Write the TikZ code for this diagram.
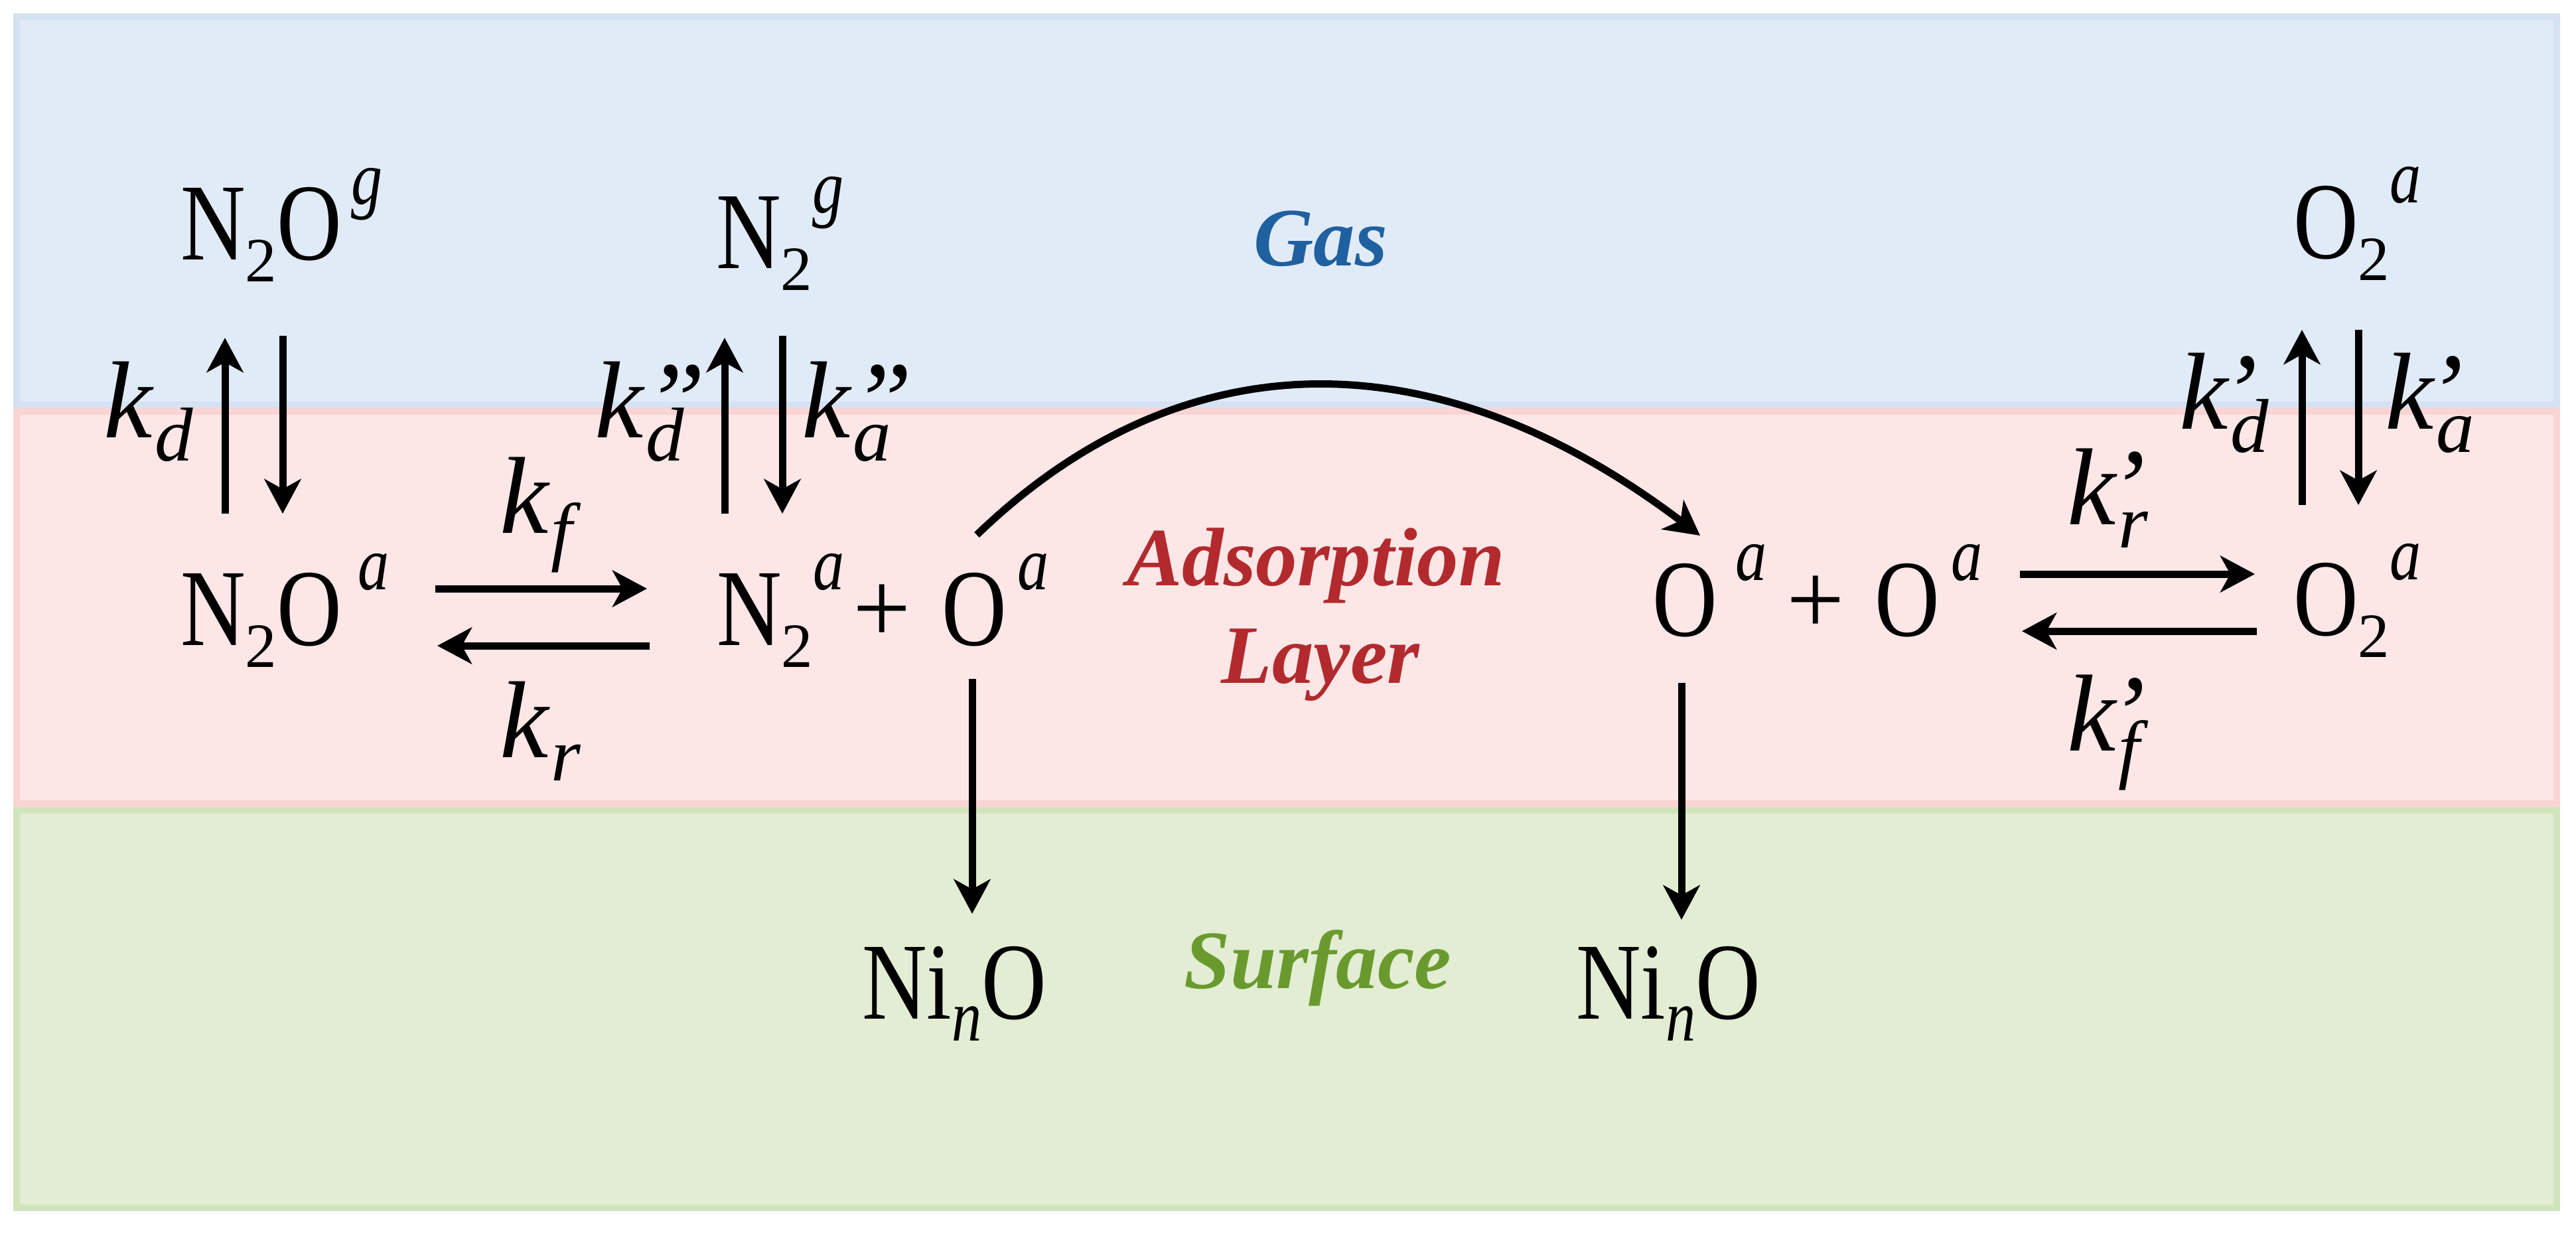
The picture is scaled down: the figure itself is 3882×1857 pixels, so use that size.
\documentclass[tikz,border=0pt]{standalone}
\usepackage{fontspec}
\setmainfont{Liberation Serif}
\newfontfamily\chemf[FakeStretch=0.82]{Liberation Serif}
\usetikzlibrary{arrows.meta,calc}

\definecolor{gasfill}{RGB}{225,235,247}
\definecolor{gasline}{RGB}{212,226,242}
\definecolor{adsfill}{RGB}{252,230,230}
\definecolor{adsline}{RGB}{249,212,212}
\definecolor{surffill}{RGB}{226,237,211}
\definecolor{surfline}{RGB}{210,228,189}
\definecolor{gastext}{RGB}{31,96,160}
\definecolor{adstext}{RGB}{178,42,46}
\definecolor{surftext}{RGB}{106,154,46}

\newcommand{\csub}[1]{\raisebox{-3.3pt}{\fontsize{9.5}{10}\selectfont\rmfamily\upshape #1}}
\newcommand{\csup}[1]{\raisebox{8.4pt}{\fontsize{11.5}{12}\selectfont\itshape #1}}
\newcommand{\nsub}[1]{\raisebox{-3.3pt}{\fontsize{11}{12}\selectfont\itshape #1}}
\newcommand{\klab}[2]{k\rlap{#1}\kern0.4pt\raisebox{-3.5pt}{\fontsize{11.5}{12}\selectfont #2}}

\tikzset{
  chem/.style={inner sep=0pt, anchor=base west, font=\chemf\fontsize{16.5}{18}\selectfont},
  plussign/.style={inner sep=0pt, font=\rmfamily\fontsize{15.5}{17}\selectfont},
  rate/.style={inner sep=0pt, anchor=base west, font=\fontsize{16.5}{18}\selectfont\itshape},
  layerlab/.style={inner sep=0pt, anchor=base, font=\fontsize{12.5}{14}\selectfont\bfseries\itshape},
  rx/.style={-{Stealth[length=5.2pt,width=5.5pt,inset=1.5pt]}, line width=1.1pt, draw=black},
  band/.style={line width=1pt},
}

\begin{document}
\begin{tikzpicture}[x=0.1pt,y=-0.1pt]
\useasboundingbox (0,0) rectangle (3882,1857);

% background layers
\draw[band, fill=gasfill, draw=gasline] (25,25) rectangle (3853,610);
\draw[band, fill=adsfill, draw=adsline] (25,620) rectangle (3853,1211);
\draw[band, fill=surffill, draw=surfline] (25,1221) rectangle (3853,1820);

% layer labels
\node[layerlab, text=gastext] (gas) at (1990,400) {Gas};
\node[layerlab, text=adstext] (adsA) at (1983,882) {Adsorption};
\node[layerlab, text=adstext] (adsB) at (1990,1029) {Layer};
\node[layerlab, text=surftext] (surf) at (1986,1489) {Surface};

% species
\node[chem] (N2Og) at (270,391) {N\csub{2}O\hspace{1.5pt}\csup{g}};
\node[chem] (N2Oa) at (270,972) {N\csub{2}O\hspace{2.5pt}\csup{a}};
\node[chem] (N2g) at (1077,404) {N\csub{2}\csup{g}};
\node[chem] (N2a) at (1078,972) {N\csub{2}\csup{a}};
\node[plussign] (p1) at (1329,925) {+};
\node[chem] (Oa1) at (1417,972) {O\hspace{1.7pt}\csup{a}};
\node[chem] (Oa2) at (2488,958) {O\hspace{2.8pt}\csup{a}};
\node[plussign] (p2) at (2736,912) {+};
\node[chem] (Oa3) at (2823,958) {O\hspace{1.8pt}\csup{a}};
\node[chem] (O2g) at (3454,389) {O\csub{2}\csup{a}};
\node[chem] (O2a) at (3454,957) {O\csub{2}\csup{a}};
\node[chem] (NiO1) at (1297,1535) {Ni\nsub{n}O};
\node[chem] (NiO2) at (2373,1535) {Ni\nsub{n}O};

% rate constants
\node[rate] (kd) at (154,659) {\klab{}{d}};
\node[rate] (kdd) at (894,659) {\klab{\kern0.2pt ”}{d}};
\node[rate] (kaa) at (1206,659) {\klab{\kern0.2pt ”}{a}};
\node[rate] (kf) at (751,803) {\klab{}{f}};
\node[rate] (kr) at (751,1141) {\klab{}{r}};
\node[rate] (kpd) at (3282,646) {\klab{\kern-1pt ’}{d}};
\node[rate] (kpa) at (3592,646) {\klab{\kern-1pt ’}{a}};
\node[rate] (kpr) at (3113,790) {\klab{\kern-1pt ’}{r}};
\node[rate] (kpf) at (3113,1131) {\klab{\kern-1pt ’}{f}};

% N2O gas <-> adsorbed
\draw[rx] ($(N2Oa.base west)+(69,-198)$) -- ($(N2Og.base west)+(69,118)$);
\draw[rx] ($(N2Og.base west)+(156,115)$) -- ($(N2Oa.base west)+(156,-198)$);

% N2 gas <-> adsorbed
\draw[rx] ($(N2a.base west)+(14,-198)$) -- ($(N2g.base west)+(15,105)$);
\draw[rx] ($(N2g.base west)+(102,102)$) -- ($(N2a.base west)+(101,-198)$);

% O2 gas <-> adsorbed
\draw[rx] ($(O2a.base west)+(15,-196)$) -- ($(O2g.base west)+(15,108)$);
\draw[rx] ($(O2g.base west)+(100,108)$) -- ($(O2a.base west)+(100,-196)$);

% N2O^a <-> N2^a + O^a
\draw[rx] ($(N2Oa.base west)+(386,-85)$) -- ($(N2a.base west)+(-103,-85)$);
\draw[rx] ($(N2a.base west)+(-99,1)$) -- ($(N2Oa.base west)+(389,1)$);

% O^a + O^a <-> O2^a
\draw[rx] ($(Oa3.base west)+(221,-93)$) -- ($(O2a.base west)+(-56,-92)$);
\draw[rx] ($(O2a.base west)+(-53,-6)$) -- ($(Oa3.base west)+(224,-7)$);

% O^a migration
\draw[rx] ($(Oa1.base west)+(55,-166)$) .. controls (1783,506) and (2165,506) .. ($(Oa2.base west)+(74,-151)$);

% O^a -> NinO
\draw[rx] ($(Oa1.base west)+(48,51)$) -- ($(NiO1.base west)+(168,-158)$);
\draw[rx] ($(Oa2.base west)+(46,71)$) -- ($(NiO2.base west)+(161,-149)$);
\end{tikzpicture}
\end{document}
